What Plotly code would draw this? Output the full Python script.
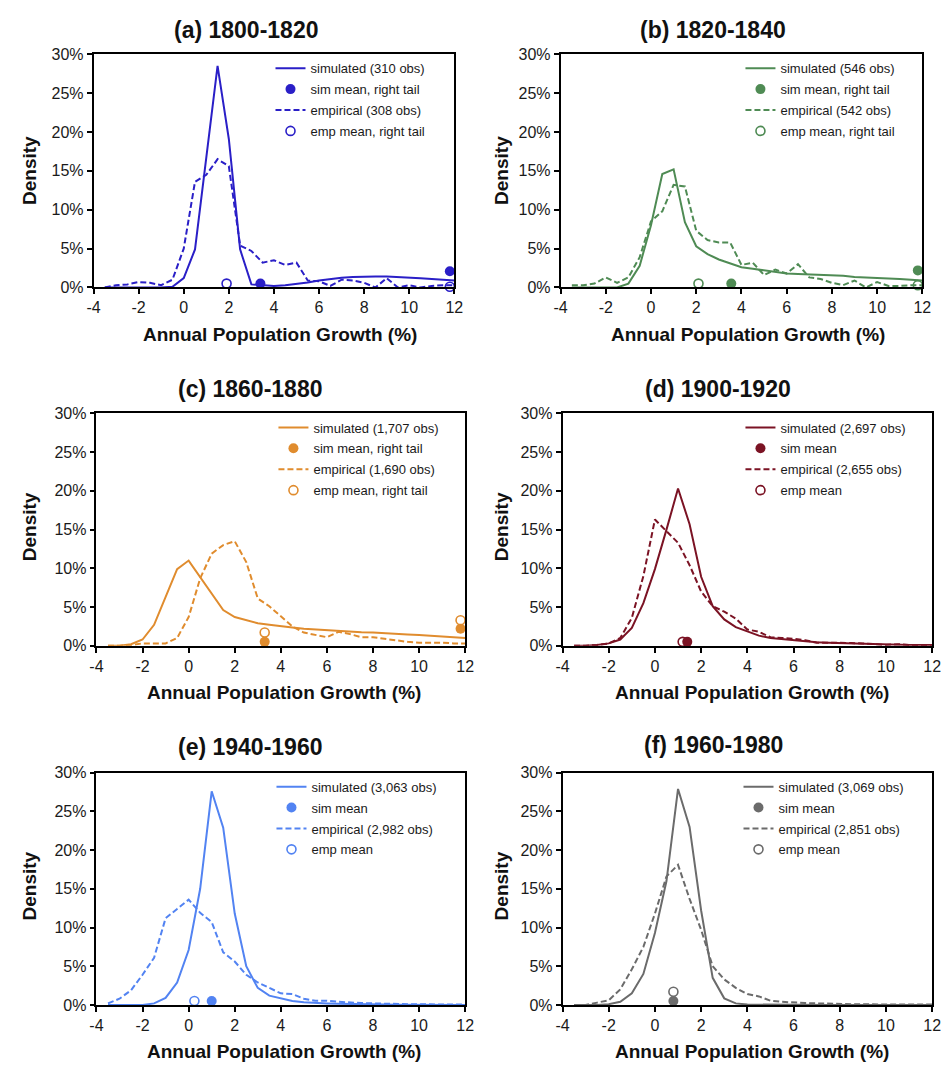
import plotly.graph_objects as go

# ---------------- data ----------------
growth = [-3.5, -3.0, -2.5, -2.0, -1.5, -1.0, -0.5, 0.0, 0.5, 1.0, 1.5, 2.0, 2.5, 3.0, 3.5, 4.0,
          4.5, 5.0, 5.5, 6.0, 6.5, 7.0, 7.5, 8.0, 8.5, 9.0, 9.5, 10.0, 10.5, 11.0, 11.5, 12.0]

sim_a = [0, 0, 0, 0, 0, 0, 0.1, 1.2, 4.9, 16.7, 28.5, 19.1, 4.9, 0.4, 0.3, 0.2,
         0.3, 0.45, 0.65, 0.9, 1.1, 1.25, 1.35, 1.4, 1.4, 1.4, 1.35, 1.3, 1.2, 1.1, 1.0, 0.9]
emp_a = [0, 0.3, 0.4, 0.7, 0.6, 0.3, 1.0, 5.0, 13.6, 14.5, 16.5, 15.6, 5.4, 4.7, 3.2, 3.5,
         2.9, 3.2, 0.9, 0.8, 0.2, 1.0, 0.9, 0.6, 0.0, 1.2, 0.0, 0.3, 0.0, 0.2, 0.3, 0.3]

sim_b = [0, 0, 0, 0, 0, 0.5, 2.8, 8.0, 14.6, 15.2, 8.4, 5.3, 4.3, 3.6, 3.1, 2.6,
         2.4, 2.2, 2.0, 1.8, 1.75, 1.7, 1.6, 1.55, 1.5, 1.35, 1.3, 1.25, 1.2, 1.1, 1.0, 0.9]
emp_b = [0.3, 0.3, 0.5, 1.3, 0.6, 1.3, 3.9, 8.5, 9.8, 13.2, 13.0, 7.3, 6.1, 5.8, 5.8, 2.9,
         3.2, 1.6, 2.3, 1.8, 3.0, 1.3, 1.1, 0.6, 0.3, 0.9, 0.0, 0.7, 0.2, 0.2, 0.3, 0.3]

sim_c = [0, 0, 0.2, 0.8, 2.7, 6.3, 9.9, 11.0, 8.9, 6.7, 4.6, 3.7, 3.3, 2.9, 2.7, 2.5,
         2.35, 2.2, 2.1, 2.0, 1.9, 1.8, 1.75, 1.7, 1.6, 1.5, 1.45, 1.4, 1.3, 1.2, 1.1, 1.0]
emp_c = [0, 0, 0.1, 0.3, 0.3, 0.3, 1.0, 3.7, 8.7, 11.9, 13.0, 13.5, 10.8, 6.1, 5.1, 3.8,
         2.5, 1.7, 1.4, 1.1, 1.8, 1.5, 1.1, 1.1, 0.9, 0.7, 0.5, 0.4, 0.4, 0.4, 0.3, 0.3]

sim_d = [0, 0, 0.1, 0.3, 0.8, 2.3, 5.5, 9.9, 15.0, 20.3, 15.7, 8.9, 5.1, 3.4, 2.4, 1.8,
         1.3, 1.0, 0.85, 0.7, 0.6, 0.45, 0.4, 0.35, 0.3, 0.25, 0.2, 0.15, 0.15, 0.1, 0.1, 0.1]
emp_d = [0, 0, 0.1, 0.3, 1.0, 3.6, 9.0, 16.3, 14.8, 13.3, 10.4, 7.0, 5.1, 4.4, 3.5, 2.1,
         1.8, 1.1, 1.0, 0.9, 0.7, 0.4, 0.4, 0.4, 0.35, 0.3, 0.2, 0.1, 0.2, 0.1, 0.1, 0.1]

sim_e = [0, 0, 0, 0, 0.2, 0.9, 2.9, 7.1, 15.0, 27.6, 22.9, 11.8, 5.0, 2.2, 1.2, 0.8,
         0.5, 0.35, 0.25, 0.2, 0.15, 0.1, 0.08, 0.05, 0.05, 0.03, 0.02, 0.02, 0.01, 0.01, 0.01, 0]
emp_e = [0.2, 0.8, 1.9, 3.9, 6.1, 11.2, 12.4, 13.6, 11.9, 10.7, 6.8, 5.6, 3.9, 2.9, 2.2, 1.5,
         1.4, 0.8, 0.55, 0.55, 0.4, 0.3, 0.25, 0.2, 0.15, 0.1, 0.1, 0.1, 0.05, 0.05, 0.05, 0.05]

sim_f = [0, 0, 0, 0.1, 0.4, 1.5, 4.0, 9.3, 16.0, 27.9, 23.0, 12.2, 3.5, 0.85, 0.2, 0.05,
         0.03, 0.02, 0.01, 0, 0, 0, 0, 0, 0, 0, 0, 0, 0, 0, 0, 0]
emp_f = [0, 0, 0.3, 0.6, 2.0, 4.6, 7.5, 11.8, 16.6, 18.1, 13.7, 9.7, 5.0, 3.3, 2.2, 1.4,
         1.1, 0.55, 0.4, 0.3, 0.25, 0.2, 0.15, 0.1, 0.1, 0.1, 0.05, 0.05, 0.05, 0.05, 0.05, 0.05]

# mean / right-tail markers (x = growth %, y = density %)
simpt_a_x = [3.4, 11.8];  simpt_a_y = [0.5, 2.1]
emppt_a_x = [1.9, 11.8];  emppt_a_y = [0.5, 0.1]
simpt_b_x = [3.55, 11.8]; simpt_b_y = [0.5, 2.2]
emppt_b_x = [2.1, 11.8];  emppt_b_y = [0.5, 0.3]
simpt_c_x = [3.3, 11.8];  simpt_c_y = [0.5, 2.2]
emppt_c_x = [3.3, 11.8];  emppt_c_y = [1.7, 3.3]
simpt_d_x = [1.4];        simpt_d_y = [0.5]
emppt_d_x = [1.2];        emppt_d_y = [0.5]
simpt_e_x = [1.0];        simpt_e_y = [0.5]
emppt_e_x = [0.25];       emppt_e_y = [0.5]
simpt_f_x = [0.8];        simpt_f_y = [0.5]
emppt_f_x = [0.8];        emppt_f_y = [1.7]

titles = ["(a) 1800-1820", "(b) 1820-1840", "(c) 1860-1880",
          "(d) 1900-1920", "(e) 1940-1960", "(f) 1960-1980"]
sim_names = ["simulated (310 obs)", "simulated (546 obs)", "simulated (1,707 obs)",
             "simulated (2,697 obs)", "simulated (3,063 obs)", "simulated (3,069 obs)"]
emp_names = ["empirical (308 obs)", "empirical (542 obs)", "empirical (1,690 obs)",
             "empirical (2,655 obs)", "empirical (2,982 obs)", "empirical (2,851 obs)"]
simpt_names = ["sim mean, right tail", "sim mean, right tail", "sim mean, right tail",
               "sim mean", "sim mean", "sim mean"]
emppt_names = ["emp mean, right tail", "emp mean, right tail", "emp mean, right tail",
               "emp mean", "emp mean", "emp mean"]
x_ticks = [-4, -2, 0, 2, 4, 6, 8, 10, 12]
y_ticks = [0, 5, 10, 15, 20, 25, 30]

# ---------------- styling / layout ----------------
colors = ["#2A1FC7", "#4F8B54", "#E08C2E", "#7B1324", "#5283F2", "#6B6B6B"]
W, H = 952, 1072
FONT = "Liberation Sans, Arial, sans-serif"

# plot-area boxes in pixels: (left, right, top, bottom)
boxes = [(88, 455, 47, 284), (563, 931, 47, 284),
         (91, 466, 412, 648), (565, 941, 412, 648),
         (91, 466, 777, 1013), (565, 941, 777, 1013)]
title_pos = [(244, 22), (718, 22), (248, 387), (723, 387), (248, 751), (719, 749)]
xtitle_pos = [(278, 332), (754, 332), (282, 696), (758, 696), (282, 1060), (758, 1060)]
ytitle_pos = [(23, 165), (503, 165), (23, 527), (503, 527), (23, 892), (503, 892)]
legend_pos = [(268, 46), (746, 46), (271, 411), (746, 411), (269, 776), (744, 776)]

sims = [sim_a, sim_b, sim_c, sim_d, sim_e, sim_f]
emps = [emp_a, emp_b, emp_c, emp_d, emp_e, emp_f]
simpts = [(simpt_a_x, simpt_a_y), (simpt_b_x, simpt_b_y), (simpt_c_x, simpt_c_y),
          (simpt_d_x, simpt_d_y), (simpt_e_x, simpt_e_y), (simpt_f_x, simpt_f_y)]
emppts = [(emppt_a_x, emppt_a_y), (emppt_b_x, emppt_b_y), (emppt_c_x, emppt_c_y),
          (emppt_d_x, emppt_d_y), (emppt_e_x, emppt_e_y), (emppt_f_x, emppt_f_y)]

fig = go.Figure()
layout = dict(width=W, height=H, margin=dict(l=0, r=0, t=0, b=0),
              paper_bgcolor="white", plot_bgcolor="white", showlegend=True,
              font=dict(family=FONT, color="#1a1a1a"))
annotations = []

for i in range(6):
    n = "" if i == 0 else str(i + 1)
    xa, ya = "x" + n, "y" + n
    lg = "legend" + n
    c = colors[i]
    l, r, t, b = boxes[i]

    fig.add_trace(go.Scatter(x=growth, y=sims[i], mode="lines", name=sim_names[i],
                             line=dict(color=c, width=2), xaxis=xa, yaxis=ya,
                             legend=lg, legendrank=1, legendgroup="s%d" % i))
    fig.add_trace(go.Scatter(x=growth, y=emps[i], mode="lines", name=emp_names[i],
                             line=dict(color=c, width=2, dash="6px,3px"), xaxis=xa, yaxis=ya,
                             legend=lg, legendrank=3, legendgroup="e%d" % i))
    fig.add_trace(go.Scatter(x=emppts[i][0], y=emppts[i][1], mode="markers", name=emppt_names[i],
                             marker=dict(symbol="circle-open", size=9, color=c, line=dict(width=1.6)),
                             xaxis=xa, yaxis=ya, cliponaxis=False,
                             legend=lg, legendrank=4, legendgroup="ep%d" % i))
    fig.add_trace(go.Scatter(x=simpts[i][0], y=simpts[i][1], mode="markers", name=simpt_names[i],
                             marker=dict(symbol="circle", size=10, color=c),
                             xaxis=xa, yaxis=ya, cliponaxis=False,
                             legend=lg, legendrank=2, legendgroup="sp%d" % i))

    layout["xaxis" + n] = dict(domain=[l / W, r / W], anchor=ya, range=[-4, 12],
                               tickvals=x_ticks, ticktext=[str(v) for v in x_ticks],
                               ticks="outside", ticklen=5, tickwidth=1.5, tickcolor="black",
                               showline=True, linecolor="black", linewidth=1.6, mirror=True,
                               showgrid=False, zeroline=False,
                               tickfont=dict(family=FONT, size=16, color="#1a1a1a"))
    layout["yaxis" + n] = dict(domain=[1 - b / H, 1 - t / H], anchor=xa, range=[0, 30],
                               tickvals=y_ticks, ticktext=["%d%%" % v for v in y_ticks],
                               ticks="outside", ticklen=5, tickwidth=1.5, tickcolor="black",
                               showline=True, linecolor="black", linewidth=1.6, mirror=True,
                               showgrid=False, zeroline=False,
                               tickfont=dict(family=FONT, size=16, color="#1a1a1a"))
    lx, ly = legend_pos[i]
    layout[lg] = dict(x=lx / W, y=1 - ly / H, xanchor="left", yanchor="top",
                      bgcolor="rgba(0,0,0,0)", borderwidth=0, traceorder="grouped",
                      tracegroupgap=1, font=dict(family=FONT, size=13, color="#1a1a1a"))

    tx, ty = title_pos[i]
    annotations.append(dict(text="<b>%s</b>" % titles[i], x=tx / W, y=1 - ty / H,
                            xref="paper", yref="paper", showarrow=False,
                            xanchor="center", yanchor="middle",
                            font=dict(family=FONT, size=23, color="#111")))
    ax_, ay_ = xtitle_pos[i]
    annotations.append(dict(text="<b>Annual Population Growth (%)</b>", x=ax_ / W, y=1 - ay_ / H,
                            xref="paper", yref="paper", showarrow=False,
                            xanchor="center", yanchor="middle",
                            font=dict(family=FONT, size=19, color="#111")))
    dx, dy = ytitle_pos[i]
    annotations.append(dict(text="<b>Density</b>", x=dx / W, y=1 - dy / H, textangle=-90,
                            xref="paper", yref="paper", showarrow=False,
                            xanchor="center", yanchor="middle",
                            font=dict(family=FONT, size=19, color="#111")))

layout["annotations"] = annotations
fig.update_layout(**layout)
fig.write_html("out.html")
